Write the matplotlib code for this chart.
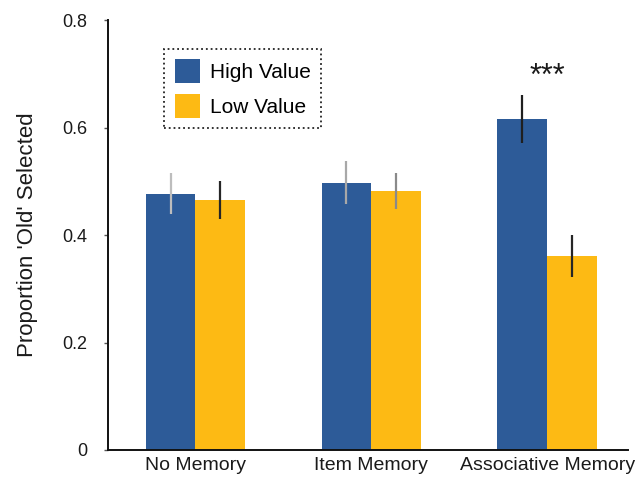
"""Bar chart: proportion of 'old' responses by memory type and value."""

import matplotlib.pyplot as plt
import numpy as np

plt.rcParams["font.family"] = ["Liberation Sans", "DejaVu Sans"]

# Data
conditions = ["No Memory", "Item Memory", "Associative Memory"]
high_value = [0.477, 0.497, 0.616]
low_value = [0.465, 0.482, 0.361]
high_err = [0.038, 0.040, 0.045]
low_err = [0.035, 0.033, 0.039]
series_labels = ["High Value", "Low Value"]
ytick_values = [0, 0.2, 0.4, 0.6, 0.8]
ytick_labels = ["0", "0.2", "0.4", "0.6", "0.8"]
significance = ["", "", "***"]

COLORS = {
    "high": "#2d5b98",
    "low": "#fdba14",
    "text": "#1a1a1a",
}

x = np.arange(len(conditions))
width = 0.283

fig = plt.figure(figsize=(6.41, 4.82), dpi=100)
ax = fig.add_axes([0.1685, 0.0664, 0.8115, 0.892])

ax.bar(x - width / 2, high_value, width, color=COLORS["high"], label=series_labels[0], zorder=2)
ax.bar(x + width / 2, low_value, width, color=COLORS["low"], label=series_labels[1], zorder=2)

# Error bars drawn as thin vertical lines, no caps
ax.errorbar(x - width / 2, high_value, yerr=high_err, fmt="none",
            ecolor=["#bdbdbd", "#a8a8a8", "#1f1f1f"], elinewidth=1.6, capsize=0, zorder=3)
ax.errorbar(x + width / 2, low_value, yerr=low_err, fmt="none",
            ecolor=["#262626", "#8a8a8a", "#262626"], elinewidth=1.6, capsize=0, zorder=3)

# Significance markers
for xi, mark in enumerate(significance):
    if mark:
        ax.text(xi, 0.695, mark, ha="center", va="center", fontsize=22,
                color=COLORS["text"])

ax.set_xlim(-0.497, 2.46)
ax.set_ylim(0, 0.8)
ax.set_xticks(x)
ax.set_xticklabels(conditions, fontsize=14, color=COLORS["text"])
ax.set_yticks(ytick_values)
ax.set_yticklabels(ytick_labels, fontsize=13, color=COLORS["text"])
ax.tick_params(axis="x", length=0, pad=5)
ax.tick_params(axis="y", length=3, width=1, pad=12, color="#555555")

ax.set_ylabel("Proportion 'Old' Selected", fontsize=16, color=COLORS["text"], labelpad=17)

for side in ("top", "right"):
    ax.spines[side].set_visible(False)
for side in ("left", "bottom"):
    ax.spines[side].set_linewidth(1.4)
    ax.spines[side].set_color("#111111")

leg = ax.legend(loc="upper left", bbox_to_anchor=(0.108, 0.933), borderaxespad=0,
                fontsize=15, handlelength=1.2, handleheight=1.4, handletextpad=0.5,
                labelspacing=0.5, borderpad=0.5, fancybox=False, framealpha=1)
frame = leg.get_frame()
frame.set_linestyle(":")
frame.set_linewidth(1.3)
frame.set_edgecolor("#222222")

fig.savefig("out.png", dpi=100, facecolor="white")
plt.close(fig)
